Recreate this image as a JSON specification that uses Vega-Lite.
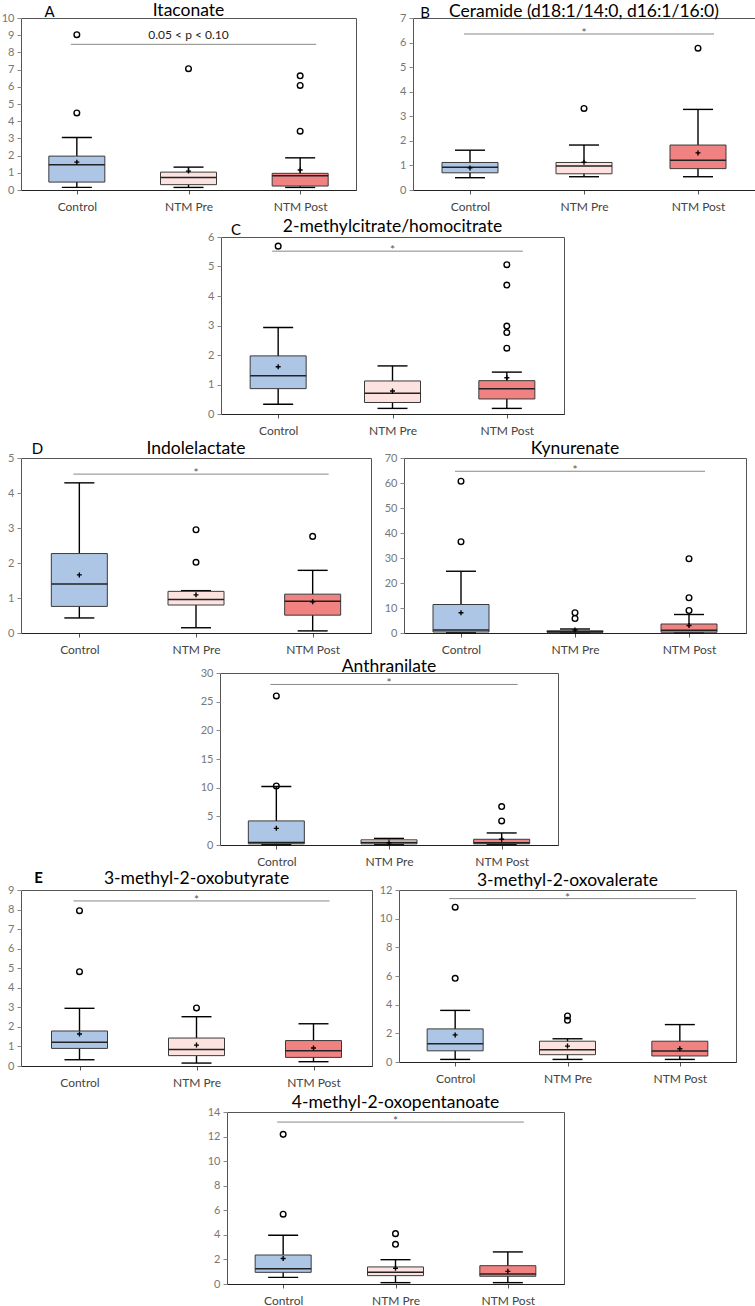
{
"$schema": "https://vega.github.io/schema/vega-lite/v6.json",
"padding": {"left": 0, "top": 1, "right": 0, "bottom": 0},
"background": "white",
"columns": 1,
"align": "none",
"spacing": -4,
"config": {
 "font": "Lato",
 "view": {"stroke": "#555", "strokeWidth": 1},
 "axis": {"grid": false, "labelFont": "Lato", "titleFont": "Lato", "tickSize": 4, "tickColor": "#888", "domain": false},
 "axisX": {"domain": true, "domainColor": "#222", "labelFontSize": 12, "labelColor": "#444", "labelPadding": 7, "labelAngle": 0, "tickColor": "#555"},
 "axisY": {"labelFontSize": 11, "labelColor": "#777", "labelPadding": 3, "titleAngle": 0, "titleAlign": "center", "titleBaseline": "alphabetic", "titleFontSize": 15, "titleFontWeight": "normal", "titleColor": "#000"},
 "title": {"font": "Lato", "fontSize": 17.5, "fontWeight": "normal", "color": "#000", "frame": "group", "anchor": "middle"}
},
"datasets": {"d": [
{"panel":"A","kind":"box","group":"Control","lo":0.15,"q1":0.46,"med":1.47,"q3":1.97,"hi":3.05,"mean":1.62},
{"panel":"A","kind":"box","group":"NTM Pre","lo":0.15,"q1":0.31,"med":0.73,"q3":1.04,"hi":1.33,"mean":1.10},
{"panel":"A","kind":"box","group":"NTM Post","lo":0.15,"q1":0.23,"med":0.83,"q3":0.97,"hi":1.87,"mean":1.16},
{"panel":"A","kind":"out","group":"Control","value":9.03},
{"panel":"A","kind":"out","group":"Control","value":4.48},
{"panel":"A","kind":"out","group":"NTM Pre","value":7.05},
{"panel":"A","kind":"out","group":"NTM Post","value":6.64},
{"panel":"A","kind":"out","group":"NTM Post","value":6.08},
{"panel":"A","kind":"out","group":"NTM Post","value":3.42},
{"panel":"A","kind":"sig","from":"Control","to":"NTM Post","mid":"NTM Pre","y":8.47,"label":"0.05 < p < 0.10"},
{"panel":"B","kind":"box","group":"Control","lo":0.50,"q1":0.70,"med":0.93,"q3":1.12,"hi":1.62,"mean":0.90},
{"panel":"B","kind":"box","group":"NTM Pre","lo":0.54,"q1":0.66,"med":0.98,"q3":1.12,"hi":1.83,"mean":1.13},
{"panel":"B","kind":"box","group":"NTM Post","lo":0.54,"q1":0.87,"med":1.21,"q3":1.83,"hi":3.28,"mean":1.51},
{"panel":"B","kind":"out","group":"NTM Pre","value":3.32},
{"panel":"B","kind":"out","group":"NTM Post","value":5.77},
{"panel":"B","kind":"sig","from":"Control","to":"NTM Post","mid":"NTM Pre","y":6.35,"label":"*"},
{"panel":"C","kind":"box","group":"Control","lo":0.33,"q1":0.86,"med":1.30,"q3":1.97,"hi":2.93,"mean":1.60},
{"panel":"C","kind":"box","group":"NTM Pre","lo":0.19,"q1":0.39,"med":0.70,"q3":1.12,"hi":1.63,"mean":0.78},
{"panel":"C","kind":"box","group":"NTM Post","lo":0.19,"q1":0.51,"med":0.86,"q3":1.13,"hi":1.42,"mean":1.23},
{"panel":"C","kind":"out","group":"Control","value":5.69},
{"panel":"C","kind":"out","group":"NTM Post","value":5.06},
{"panel":"C","kind":"out","group":"NTM Post","value":4.37},
{"panel":"C","kind":"out","group":"NTM Post","value":2.98},
{"panel":"C","kind":"out","group":"NTM Post","value":2.76},
{"panel":"C","kind":"out","group":"NTM Post","value":2.23},
{"panel":"C","kind":"sig","from":"Control","to":"NTM Post","mid":"NTM Pre","y":5.52,"label":"*"},
{"panel":"D","kind":"box","group":"Control","lo":0.43,"q1":0.76,"med":1.40,"q3":2.27,"hi":4.29,"mean":1.66},
{"panel":"D","kind":"box","group":"NTM Pre","lo":0.15,"q1":0.80,"med":0.96,"q3":1.19,"hi":1.21,"mean":1.09},
{"panel":"D","kind":"box","group":"NTM Post","lo":0.06,"q1":0.51,"med":0.91,"q3":1.11,"hi":1.79,"mean":0.89},
{"panel":"D","kind":"out","group":"NTM Pre","value":2.95},
{"panel":"D","kind":"out","group":"NTM Pre","value":2.02},
{"panel":"D","kind":"out","group":"NTM Post","value":2.76},
{"panel":"D","kind":"sig","from":"Control","to":"NTM Post","mid":"NTM Pre","y":4.54,"label":"*"},
{"panel":"K","kind":"box","group":"Control","lo":0.1,"q1":0.4,"med":1.2,"q3":11.4,"hi":24.7,"mean":8.1},
{"panel":"K","kind":"box","group":"NTM Pre","lo":0.1,"q1":0.3,"med":0.5,"q3":0.9,"hi":1.6,"mean":1.2},
{"panel":"K","kind":"box","group":"NTM Post","lo":0.1,"q1":0.3,"med":1.1,"q3":3.6,"hi":7.4,"mean":3.0},
{"panel":"K","kind":"out","group":"Control","value":60.7},
{"panel":"K","kind":"out","group":"Control","value":36.5},
{"panel":"K","kind":"out","group":"NTM Pre","value":8.1},
{"panel":"K","kind":"out","group":"NTM Pre","value":5.8},
{"panel":"K","kind":"out","group":"NTM Post","value":29.7},
{"panel":"K","kind":"out","group":"NTM Post","value":14.1},
{"panel":"K","kind":"out","group":"NTM Post","value":9.0},
{"panel":"K","kind":"sig","from":"Control","to":"NTM Post","mid":"NTM Pre","y":64.7,"label":"*"},
{"panel":"N","kind":"box","group":"Control","lo":0.1,"q1":0.2,"med":0.45,"q3":4.2,"hi":10.2,"mean":2.9},
{"panel":"N","kind":"box","group":"NTM Pre","lo":0.1,"q1":0.2,"med":0.45,"q3":0.9,"hi":1.15,"mean":0.4},
{"panel":"N","kind":"box","group":"NTM Post","lo":0.1,"q1":0.2,"med":0.4,"q3":1.0,"hi":2.1,"mean":1.0},
{"panel":"N","kind":"out","group":"Control","value":26.0},
{"panel":"N","kind":"out","group":"Control","value":10.3},
{"panel":"N","kind":"out","group":"NTM Post","value":6.7},
{"panel":"N","kind":"out","group":"NTM Post","value":4.2},
{"panel":"N","kind":"sig","from":"Control","to":"NTM Post","mid":"NTM Pre","y":28.0,"label":"*"},
{"panel":"E","kind":"box","group":"Control","lo":0.32,"q1":0.90,"med":1.21,"q3":1.79,"hi":2.95,"mean":1.64},
{"panel":"E","kind":"box","group":"NTM Pre","lo":0.15,"q1":0.53,"med":0.84,"q3":1.43,"hi":2.52,"mean":1.07},
{"panel":"E","kind":"box","group":"NTM Post","lo":0.22,"q1":0.44,"med":0.78,"q3":1.30,"hi":2.16,"mean":0.92},
{"panel":"E","kind":"out","group":"Control","value":7.94},
{"panel":"E","kind":"out","group":"Control","value":4.82},
{"panel":"E","kind":"out","group":"NTM Pre","value":2.97},
{"panel":"E","kind":"sig","from":"Control","to":"NTM Post","mid":"NTM Pre","y":8.44,"label":"*"},
{"panel":"V","kind":"box","group":"Control","lo":0.18,"q1":0.78,"med":1.27,"q3":2.31,"hi":3.60,"mean":1.89},
{"panel":"V","kind":"box","group":"NTM Pre","lo":0.18,"q1":0.51,"med":0.85,"q3":1.45,"hi":1.62,"mean":1.11},
{"panel":"V","kind":"box","group":"NTM Post","lo":0.18,"q1":0.42,"med":0.76,"q3":1.45,"hi":2.61,"mean":0.92},
{"panel":"V","kind":"out","group":"Control","value":10.8},
{"panel":"V","kind":"out","group":"Control","value":5.84},
{"panel":"V","kind":"out","group":"NTM Pre","value":2.91},
{"panel":"V","kind":"out","group":"NTM Pre","value":3.21},
{"panel":"V","kind":"sig","from":"Control","to":"NTM Post","mid":"NTM Pre","y":11.4,"label":"*"},
{"panel":"P","kind":"box","group":"Control","lo":0.54,"q1":0.95,"med":1.25,"q3":2.36,"hi":3.97,"mean":2.07},
{"panel":"P","kind":"box","group":"NTM Pre","lo":0.11,"q1":0.68,"med":0.95,"q3":1.39,"hi":1.98,"mean":1.28},
{"panel":"P","kind":"box","group":"NTM Post","lo":0.11,"q1":0.63,"med":0.82,"q3":1.49,"hi":2.61,"mean":1.03},
{"panel":"P","kind":"out","group":"Control","value":12.18},
{"panel":"P","kind":"out","group":"Control","value":5.68},
{"panel":"P","kind":"out","group":"NTM Pre","value":3.23},
{"panel":"P","kind":"out","group":"NTM Pre","value":4.10},
{"panel":"P","kind":"sig","from":"Control","to":"NTM Post","mid":"NTM Pre","y":13.18,"label":"*"}
]},
"data": {"name": "d"},
"concat": [
{"hconcat": [
{"width": 335, "height": 172, "title": {"text": "Itaconate", "offset": -15.5},
 "transform": [{"filter": "datum.panel === 'A'"}],
 "encoding": {"x": {"field": "group", "type": "nominal", "scale": {"type": "point", "padding": 0.5, "domain": ["Control", "NTM Pre", "NTM Post"]}, "axis": {"title": null, "minExtent": 30, "maxExtent": 30}}},
 "layer": [
  {"transform": [{"filter": "datum.kind === 'box'"}], "mark": {"type": "rule", "color": "#000", "strokeWidth": 1.4},
   "encoding": {"y": {"field": "lo", "type": "quantitative", "scale": {"domain": [0, 10], "nice": false}, "axis": {"title": "A", "tickCount": 10, "minExtent": 18, "maxExtent": 18, "titleX": 28, "titleY": -2}}, "y2": {"field": "hi"}}},
  {"transform": [{"filter": "datum.kind === 'box'"}], "mark": {"type": "tick", "color": "#000", "size": 30, "thickness": 1.4, "opacity": 1}, "encoding": {"y": {"field": "lo", "type": "quantitative"}}},
  {"transform": [{"filter": "datum.kind === 'box'"}], "mark": {"type": "tick", "color": "#000", "size": 30, "thickness": 1.4, "opacity": 1}, "encoding": {"y": {"field": "hi", "type": "quantitative"}}},
  {"transform": [{"filter": "datum.kind === 'box'"}], "mark": {"type": "bar", "size": 56, "stroke": "#3a3a3a", "strokeWidth": 1}, "encoding": {"y": {"field": "q1", "type": "quantitative"}, "y2": {"field": "q3"}, "color": {"field": "group", "type": "nominal", "scale": {"domain": ["Control", "NTM Pre", "NTM Post"], "range": ["#aec6e6", "#fde3e0", "#f08282"]}, "legend": null}}},
  {"transform": [{"filter": "datum.kind === 'box'"}], "mark": {"type": "tick", "color": "#222", "size": 56, "thickness": 1.5, "opacity": 1}, "encoding": {"y": {"field": "med", "type": "quantitative"}}},
  {"transform": [{"filter": "datum.kind === 'box'"}], "mark": {"type": "point", "shape": "M-1,0L1,0M0,-1L0,1", "size": 25, "filled": false, "color": "#000", "strokeWidth": 1.4, "opacity": 1}, "encoding": {"y": {"field": "mean", "type": "quantitative"}}},
  {"transform": [{"filter": "datum.kind === 'out'"}], "mark": {"type": "point", "shape": "circle", "size": 32, "filled": false, "color": "#000", "strokeWidth": 1.4, "opacity": 1}, "encoding": {"y": {"field": "value", "type": "quantitative"}}},
  {"transform": [{"filter": "datum.kind === 'sig'"}], "mark": {"type": "rule", "color": "#888", "strokeWidth": 1, "xOffset": -6, "x2Offset": 16}, "encoding": {"x": {"field": "from", "type": "nominal"}, "x2": {"field": "to"}, "y": {"field": "y", "type": "quantitative"}}},
  {"transform": [{"filter": "datum.kind === 'sig'"}], "mark": {"type": "text", "fontSize": 12, "color": "#222", "baseline": "alphabetic", "dy": -5}, "encoding": {"x": {"field": "mid", "type": "nominal"}, "y": {"field": "y", "type": "quantitative"}, "text": {"field": "label"}}}
 ]},
{"width": 342, "height": 172, "title": {"text": "Ceramide (d18:1/14:0, d16:1/16:0)", "offset": -15.5},
 "transform": [{"filter": "datum.panel === 'B'"}],
 "encoding": {"x": {"field": "group", "type": "nominal", "scale": {"type": "point", "padding": 0.5, "domain": ["Control", "NTM Pre", "NTM Post"]}, "axis": {"title": null, "minExtent": 30, "maxExtent": 30}}},
 "layer": [
  {"transform": [{"filter": "datum.kind === 'box'"}], "mark": {"type": "rule", "color": "#000", "strokeWidth": 1.4},
   "encoding": {"y": {"field": "lo", "type": "quantitative", "scale": {"domain": [0, 7], "nice": false}, "axis": {"title": "B", "tickCount": 7, "minExtent": 20, "maxExtent": 20, "titleX": 11.5, "titleY": -1}}, "y2": {"field": "hi"}}},
  {"transform": [{"filter": "datum.kind === 'box'"}], "mark": {"type": "tick", "color": "#000", "size": 30, "thickness": 1.4, "opacity": 1}, "encoding": {"y": {"field": "lo", "type": "quantitative"}}},
  {"transform": [{"filter": "datum.kind === 'box'"}], "mark": {"type": "tick", "color": "#000", "size": 30, "thickness": 1.4, "opacity": 1}, "encoding": {"y": {"field": "hi", "type": "quantitative"}}},
  {"transform": [{"filter": "datum.kind === 'box'"}], "mark": {"type": "bar", "size": 56, "stroke": "#3a3a3a", "strokeWidth": 1}, "encoding": {"y": {"field": "q1", "type": "quantitative"}, "y2": {"field": "q3"}, "color": {"field": "group", "type": "nominal", "scale": {"domain": ["Control", "NTM Pre", "NTM Post"], "range": ["#aec6e6", "#fde3e0", "#f08282"]}, "legend": null}}},
  {"transform": [{"filter": "datum.kind === 'box'"}], "mark": {"type": "tick", "color": "#222", "size": 56, "thickness": 1.5, "opacity": 1}, "encoding": {"y": {"field": "med", "type": "quantitative"}}},
  {"transform": [{"filter": "datum.kind === 'box'"}], "mark": {"type": "point", "shape": "M-1,0L1,0M0,-1L0,1", "size": 25, "filled": false, "color": "#000", "strokeWidth": 1.4, "opacity": 1}, "encoding": {"y": {"field": "mean", "type": "quantitative"}}},
  {"transform": [{"filter": "datum.kind === 'out'"}], "mark": {"type": "point", "shape": "circle", "size": 32, "filled": false, "color": "#000", "strokeWidth": 1.4, "opacity": 1}, "encoding": {"y": {"field": "value", "type": "quantitative"}}},
  {"transform": [{"filter": "datum.kind === 'sig'"}], "mark": {"type": "rule", "color": "#888", "strokeWidth": 1, "xOffset": -6, "x2Offset": 16}, "encoding": {"x": {"field": "from", "type": "nominal"}, "x2": {"field": "to"}, "y": {"field": "y", "type": "quantitative"}}},
  {"transform": [{"filter": "datum.kind === 'sig'"}], "mark": {"type": "text", "fontSize": 12, "color": "#555", "baseline": "alphabetic", "dy": 3}, "encoding": {"x": {"field": "mid", "type": "nominal"}, "y": {"field": "y", "type": "quantitative"}, "text": {"field": "label"}}}
 ]}
], "spacing": 35},
{"hconcat": [
{"width": 179, "height": 1, "data": {"values": []}, "mark": {"type": "rule"}, "encoding": {}, "view": {"stroke": null}},
{"width": 343, "height": 177, "title": {"text": "2-methylcitrate/homocitrate", "offset": -13.5},
 "transform": [{"filter": "datum.panel === 'C'"}],
 "encoding": {"x": {"field": "group", "type": "nominal", "scale": {"type": "point", "padding": 0.5, "domain": ["Control", "NTM Pre", "NTM Post"]}, "axis": {"title": null, "minExtent": 28, "maxExtent": 28}}},
 "layer": [
  {"transform": [{"filter": "datum.kind === 'box'"}], "mark": {"type": "rule", "color": "#000", "strokeWidth": 1.4},
   "encoding": {"y": {"field": "lo", "type": "quantitative", "scale": {"domain": [0, 6], "nice": false}, "axis": {"title": "C", "tickCount": 6, "minExtent": 20, "maxExtent": 20, "titleX": 14.5, "titleY": -3}}, "y2": {"field": "hi"}}},
  {"transform": [{"filter": "datum.kind === 'box'"}], "mark": {"type": "tick", "color": "#000", "size": 30, "thickness": 1.4, "opacity": 1}, "encoding": {"y": {"field": "lo", "type": "quantitative"}}},
  {"transform": [{"filter": "datum.kind === 'box'"}], "mark": {"type": "tick", "color": "#000", "size": 30, "thickness": 1.4, "opacity": 1}, "encoding": {"y": {"field": "hi", "type": "quantitative"}}},
  {"transform": [{"filter": "datum.kind === 'box'"}], "mark": {"type": "bar", "size": 56, "stroke": "#3a3a3a", "strokeWidth": 1}, "encoding": {"y": {"field": "q1", "type": "quantitative"}, "y2": {"field": "q3"}, "color": {"field": "group", "type": "nominal", "scale": {"domain": ["Control", "NTM Pre", "NTM Post"], "range": ["#aec6e6", "#fde3e0", "#f08282"]}, "legend": null}}},
  {"transform": [{"filter": "datum.kind === 'box'"}], "mark": {"type": "tick", "color": "#222", "size": 56, "thickness": 1.5, "opacity": 1}, "encoding": {"y": {"field": "med", "type": "quantitative"}}},
  {"transform": [{"filter": "datum.kind === 'box'"}], "mark": {"type": "point", "shape": "M-1,0L1,0M0,-1L0,1", "size": 25, "filled": false, "color": "#000", "strokeWidth": 1.4, "opacity": 1}, "encoding": {"y": {"field": "mean", "type": "quantitative"}}},
  {"transform": [{"filter": "datum.kind === 'out'"}], "mark": {"type": "point", "shape": "circle", "size": 32, "filled": false, "color": "#000", "strokeWidth": 1.4, "opacity": 1}, "encoding": {"y": {"field": "value", "type": "quantitative"}}},
  {"transform": [{"filter": "datum.kind === 'sig'"}], "mark": {"type": "rule", "color": "#888", "strokeWidth": 1, "xOffset": -6, "x2Offset": 16}, "encoding": {"x": {"field": "from", "type": "nominal"}, "x2": {"field": "to"}, "y": {"field": "y", "type": "quantitative"}}},
  {"transform": [{"filter": "datum.kind === 'sig'"}], "mark": {"type": "text", "fontSize": 12, "color": "#555", "baseline": "alphabetic", "dy": 3}, "encoding": {"x": {"field": "mid", "type": "nominal"}, "y": {"field": "y", "type": "quantitative"}, "text": {"field": "label"}}}
 ]}
], "spacing": 0},
{"hconcat": [
{"width": 350, "height": 175, "title": {"text": "Indolelactate", "offset": -16.2},
 "transform": [{"filter": "datum.panel === 'D'"}],
 "encoding": {"x": {"field": "group", "type": "nominal", "scale": {"type": "point", "padding": 0.5, "domain": ["Control", "NTM Pre", "NTM Post"]}, "axis": {"title": null, "minExtent": 27, "maxExtent": 27}}},
 "layer": [
  {"transform": [{"filter": "datum.kind === 'box'"}], "mark": {"type": "rule", "color": "#000", "strokeWidth": 1.4},
   "encoding": {"y": {"field": "lo", "type": "quantitative", "scale": {"domain": [0, 5], "nice": false}, "axis": {"title": "D", "tickCount": 5, "minExtent": 18, "maxExtent": 18, "titleX": 16, "titleY": -5}}, "y2": {"field": "hi"}}},
  {"transform": [{"filter": "datum.kind === 'box'"}], "mark": {"type": "tick", "color": "#000", "size": 30, "thickness": 1.4, "opacity": 1}, "encoding": {"y": {"field": "lo", "type": "quantitative"}}},
  {"transform": [{"filter": "datum.kind === 'box'"}], "mark": {"type": "tick", "color": "#000", "size": 30, "thickness": 1.4, "opacity": 1}, "encoding": {"y": {"field": "hi", "type": "quantitative"}}},
  {"transform": [{"filter": "datum.kind === 'box'"}], "mark": {"type": "bar", "size": 56, "stroke": "#3a3a3a", "strokeWidth": 1}, "encoding": {"y": {"field": "q1", "type": "quantitative"}, "y2": {"field": "q3"}, "color": {"field": "group", "type": "nominal", "scale": {"domain": ["Control", "NTM Pre", "NTM Post"], "range": ["#aec6e6", "#fde3e0", "#f08282"]}, "legend": null}}},
  {"transform": [{"filter": "datum.kind === 'box'"}], "mark": {"type": "tick", "color": "#222", "size": 56, "thickness": 1.5, "opacity": 1}, "encoding": {"y": {"field": "med", "type": "quantitative"}}},
  {"transform": [{"filter": "datum.kind === 'box'"}], "mark": {"type": "point", "shape": "M-1,0L1,0M0,-1L0,1", "size": 25, "filled": false, "color": "#000", "strokeWidth": 1.4, "opacity": 1}, "encoding": {"y": {"field": "mean", "type": "quantitative"}}},
  {"transform": [{"filter": "datum.kind === 'out'"}], "mark": {"type": "point", "shape": "circle", "size": 32, "filled": false, "color": "#000", "strokeWidth": 1.4, "opacity": 1}, "encoding": {"y": {"field": "value", "type": "quantitative"}}},
  {"transform": [{"filter": "datum.kind === 'sig'"}], "mark": {"type": "rule", "color": "#888", "strokeWidth": 1, "xOffset": -6, "x2Offset": 16}, "encoding": {"x": {"field": "from", "type": "nominal"}, "x2": {"field": "to"}, "y": {"field": "y", "type": "quantitative"}}},
  {"transform": [{"filter": "datum.kind === 'sig'"}], "mark": {"type": "text", "fontSize": 12, "color": "#555", "baseline": "alphabetic", "dy": 3}, "encoding": {"x": {"field": "mid", "type": "nominal"}, "y": {"field": "y", "type": "quantitative"}, "text": {"field": "label"}}}
 ]},
{"width": 342, "height": 175, "title": {"text": "Kynurenate", "offset": -5.7},
 "transform": [{"filter": "datum.panel === 'K'"}],
 "encoding": {"x": {"field": "group", "type": "nominal", "scale": {"type": "point", "padding": 0.5, "domain": ["Control", "NTM Pre", "NTM Post"]}, "axis": {"title": null, "minExtent": 27, "maxExtent": 27}}},
 "layer": [
  {"transform": [{"filter": "datum.kind === 'box'"}], "mark": {"type": "rule", "color": "#000", "strokeWidth": 1.4},
   "encoding": {"y": {"field": "lo", "type": "quantitative", "scale": {"domain": [0, 70], "nice": false}, "axis": {"title": null, "tickCount": 7, "minExtent": 20, "maxExtent": 20}}, "y2": {"field": "hi"}}},
  {"transform": [{"filter": "datum.kind === 'box'"}], "mark": {"type": "tick", "color": "#000", "size": 30, "thickness": 1.4, "opacity": 1}, "encoding": {"y": {"field": "lo", "type": "quantitative"}}},
  {"transform": [{"filter": "datum.kind === 'box'"}], "mark": {"type": "tick", "color": "#000", "size": 30, "thickness": 1.4, "opacity": 1}, "encoding": {"y": {"field": "hi", "type": "quantitative"}}},
  {"transform": [{"filter": "datum.kind === 'box'"}], "mark": {"type": "bar", "size": 56, "stroke": "#3a3a3a", "strokeWidth": 1}, "encoding": {"y": {"field": "q1", "type": "quantitative"}, "y2": {"field": "q3"}, "color": {"field": "group", "type": "nominal", "scale": {"domain": ["Control", "NTM Pre", "NTM Post"], "range": ["#aec6e6", "#fde3e0", "#f08282"]}, "legend": null}}},
  {"transform": [{"filter": "datum.kind === 'box'"}], "mark": {"type": "tick", "color": "#222", "size": 56, "thickness": 1.5, "opacity": 1}, "encoding": {"y": {"field": "med", "type": "quantitative"}}},
  {"transform": [{"filter": "datum.kind === 'box'"}], "mark": {"type": "point", "shape": "M-1,0L1,0M0,-1L0,1", "size": 25, "filled": false, "color": "#000", "strokeWidth": 1.4, "opacity": 1}, "encoding": {"y": {"field": "mean", "type": "quantitative"}}},
  {"transform": [{"filter": "datum.kind === 'out'"}], "mark": {"type": "point", "shape": "circle", "size": 32, "filled": false, "color": "#000", "strokeWidth": 1.4, "opacity": 1}, "encoding": {"y": {"field": "value", "type": "quantitative"}}},
  {"transform": [{"filter": "datum.kind === 'sig'"}], "mark": {"type": "rule", "color": "#888", "strokeWidth": 1, "xOffset": -6, "x2Offset": 16}, "encoding": {"x": {"field": "from", "type": "nominal"}, "x2": {"field": "to"}, "y": {"field": "y", "type": "quantitative"}}},
  {"transform": [{"filter": "datum.kind === 'sig'"}], "mark": {"type": "text", "fontSize": 12, "color": "#555", "baseline": "alphabetic", "dy": 3}, "encoding": {"x": {"field": "mid", "type": "nominal"}, "y": {"field": "y", "type": "quantitative"}, "text": {"field": "label"}}}
 ]}
], "spacing": 11},
{"hconcat": [
{"width": 178, "height": 1, "data": {"values": []}, "mark": {"type": "rule"}, "encoding": {}, "view": {"stroke": null}},
{"width": 338, "height": 172, "title": {"text": "Anthranilate", "offset": -8.2},
 "transform": [{"filter": "datum.panel === 'N'"}],
 "encoding": {"x": {"field": "group", "type": "nominal", "scale": {"type": "point", "padding": 0.5, "domain": ["Control", "NTM Pre", "NTM Post"]}, "axis": {"title": null, "minExtent": 27, "maxExtent": 27}}},
 "layer": [
  {"transform": [{"filter": "datum.kind === 'box'"}], "mark": {"type": "rule", "color": "#000", "strokeWidth": 1.4},
   "encoding": {"y": {"field": "lo", "type": "quantitative", "scale": {"domain": [0, 30], "nice": false}, "axis": {"title": null, "tickCount": 6, "minExtent": 20, "maxExtent": 20}}, "y2": {"field": "hi"}}},
  {"transform": [{"filter": "datum.kind === 'box'"}], "mark": {"type": "tick", "color": "#000", "size": 30, "thickness": 1.4, "opacity": 1}, "encoding": {"y": {"field": "lo", "type": "quantitative"}}},
  {"transform": [{"filter": "datum.kind === 'box'"}], "mark": {"type": "tick", "color": "#000", "size": 30, "thickness": 1.4, "opacity": 1}, "encoding": {"y": {"field": "hi", "type": "quantitative"}}},
  {"transform": [{"filter": "datum.kind === 'box'"}], "mark": {"type": "bar", "size": 56, "stroke": "#3a3a3a", "strokeWidth": 1}, "encoding": {"y": {"field": "q1", "type": "quantitative"}, "y2": {"field": "q3"}, "color": {"field": "group", "type": "nominal", "scale": {"domain": ["Control", "NTM Pre", "NTM Post"], "range": ["#aec6e6", "#fde3e0", "#f08282"]}, "legend": null}}},
  {"transform": [{"filter": "datum.kind === 'box'"}], "mark": {"type": "tick", "color": "#222", "size": 56, "thickness": 1.5, "opacity": 1}, "encoding": {"y": {"field": "med", "type": "quantitative"}}},
  {"transform": [{"filter": "datum.kind === 'box'"}], "mark": {"type": "point", "shape": "M-1,0L1,0M0,-1L0,1", "size": 25, "filled": false, "color": "#000", "strokeWidth": 1.4, "opacity": 1}, "encoding": {"y": {"field": "mean", "type": "quantitative"}}},
  {"transform": [{"filter": "datum.kind === 'out'"}], "mark": {"type": "point", "shape": "circle", "size": 32, "filled": false, "color": "#000", "strokeWidth": 1.4, "opacity": 1}, "encoding": {"y": {"field": "value", "type": "quantitative"}}},
  {"transform": [{"filter": "datum.kind === 'sig'"}], "mark": {"type": "rule", "color": "#888", "strokeWidth": 1, "xOffset": -6, "x2Offset": 16}, "encoding": {"x": {"field": "from", "type": "nominal"}, "x2": {"field": "to"}, "y": {"field": "y", "type": "quantitative"}}},
  {"transform": [{"filter": "datum.kind === 'sig'"}], "mark": {"type": "text", "fontSize": 12, "color": "#555", "baseline": "alphabetic", "dy": 3}, "encoding": {"x": {"field": "mid", "type": "nominal"}, "y": {"field": "y", "type": "quantitative"}, "text": {"field": "label"}}}
 ]}
], "spacing": 0},
{"hconcat": [
{"width": 351, "height": 176, "title": {"text": "3-methyl-2-oxobutyrate", "offset": -17.9},
 "transform": [{"filter": "datum.panel === 'E'"}],
 "encoding": {"x": {"field": "group", "type": "nominal", "scale": {"type": "point", "padding": 0.5, "domain": ["Control", "NTM Pre", "NTM Post"]}, "axis": {"title": null, "minExtent": 30, "maxExtent": 30}}},
 "layer": [
  {"transform": [{"filter": "datum.kind === 'box'"}], "mark": {"type": "rule", "color": "#000", "strokeWidth": 1.4},
   "encoding": {"y": {"field": "lo", "type": "quantitative", "scale": {"domain": [0, 9], "nice": false}, "axis": {"title": "E", "tickCount": 9, "minExtent": 18, "maxExtent": 18, "titleX": 17, "titleY": -8, "titleFontWeight": "bold"}}, "y2": {"field": "hi"}}},
  {"transform": [{"filter": "datum.kind === 'box'"}], "mark": {"type": "tick", "color": "#000", "size": 30, "thickness": 1.4, "opacity": 1}, "encoding": {"y": {"field": "lo", "type": "quantitative"}}},
  {"transform": [{"filter": "datum.kind === 'box'"}], "mark": {"type": "tick", "color": "#000", "size": 30, "thickness": 1.4, "opacity": 1}, "encoding": {"y": {"field": "hi", "type": "quantitative"}}},
  {"transform": [{"filter": "datum.kind === 'box'"}], "mark": {"type": "bar", "size": 56, "stroke": "#3a3a3a", "strokeWidth": 1}, "encoding": {"y": {"field": "q1", "type": "quantitative"}, "y2": {"field": "q3"}, "color": {"field": "group", "type": "nominal", "scale": {"domain": ["Control", "NTM Pre", "NTM Post"], "range": ["#aec6e6", "#fde3e0", "#f08282"]}, "legend": null}}},
  {"transform": [{"filter": "datum.kind === 'box'"}], "mark": {"type": "tick", "color": "#222", "size": 56, "thickness": 1.5, "opacity": 1}, "encoding": {"y": {"field": "med", "type": "quantitative"}}},
  {"transform": [{"filter": "datum.kind === 'box'"}], "mark": {"type": "point", "shape": "M-1,0L1,0M0,-1L0,1", "size": 25, "filled": false, "color": "#000", "strokeWidth": 1.4, "opacity": 1}, "encoding": {"y": {"field": "mean", "type": "quantitative"}}},
  {"transform": [{"filter": "datum.kind === 'out'"}], "mark": {"type": "point", "shape": "circle", "size": 32, "filled": false, "color": "#000", "strokeWidth": 1.4, "opacity": 1}, "encoding": {"y": {"field": "value", "type": "quantitative"}}},
  {"transform": [{"filter": "datum.kind === 'sig'"}], "mark": {"type": "rule", "color": "#888", "strokeWidth": 1, "xOffset": -6, "x2Offset": 16}, "encoding": {"x": {"field": "from", "type": "nominal"}, "x2": {"field": "to"}, "y": {"field": "y", "type": "quantitative"}}},
  {"transform": [{"filter": "datum.kind === 'sig'"}], "mark": {"type": "text", "fontSize": 12, "color": "#555", "baseline": "alphabetic", "dy": 3}, "encoding": {"x": {"field": "mid", "type": "nominal"}, "y": {"field": "y", "type": "quantitative"}, "text": {"field": "label"}}}
 ]},
{"width": 337, "height": 172, "title": {"text": "3-methyl-2-oxovalerate", "offset": -5.4},
 "transform": [{"filter": "datum.panel === 'V'"}],
 "encoding": {"x": {"field": "group", "type": "nominal", "scale": {"type": "point", "padding": 0.5, "domain": ["Control", "NTM Pre", "NTM Post"]}, "axis": {"title": null, "minExtent": 30, "maxExtent": 30}}},
 "layer": [
  {"transform": [{"filter": "datum.kind === 'box'"}], "mark": {"type": "rule", "color": "#000", "strokeWidth": 1.4},
   "encoding": {"y": {"field": "lo", "type": "quantitative", "scale": {"domain": [0, 12], "nice": false}, "axis": {"title": null, "tickCount": 6, "minExtent": 20, "maxExtent": 20}}, "y2": {"field": "hi"}}},
  {"transform": [{"filter": "datum.kind === 'box'"}], "mark": {"type": "tick", "color": "#000", "size": 30, "thickness": 1.4, "opacity": 1}, "encoding": {"y": {"field": "lo", "type": "quantitative"}}},
  {"transform": [{"filter": "datum.kind === 'box'"}], "mark": {"type": "tick", "color": "#000", "size": 30, "thickness": 1.4, "opacity": 1}, "encoding": {"y": {"field": "hi", "type": "quantitative"}}},
  {"transform": [{"filter": "datum.kind === 'box'"}], "mark": {"type": "bar", "size": 56, "stroke": "#3a3a3a", "strokeWidth": 1}, "encoding": {"y": {"field": "q1", "type": "quantitative"}, "y2": {"field": "q3"}, "color": {"field": "group", "type": "nominal", "scale": {"domain": ["Control", "NTM Pre", "NTM Post"], "range": ["#aec6e6", "#fde3e0", "#f08282"]}, "legend": null}}},
  {"transform": [{"filter": "datum.kind === 'box'"}], "mark": {"type": "tick", "color": "#222", "size": 56, "thickness": 1.5, "opacity": 1}, "encoding": {"y": {"field": "med", "type": "quantitative"}}},
  {"transform": [{"filter": "datum.kind === 'box'"}], "mark": {"type": "point", "shape": "M-1,0L1,0M0,-1L0,1", "size": 25, "filled": false, "color": "#000", "strokeWidth": 1.4, "opacity": 1}, "encoding": {"y": {"field": "mean", "type": "quantitative"}}},
  {"transform": [{"filter": "datum.kind === 'out'"}], "mark": {"type": "point", "shape": "circle", "size": 32, "filled": false, "color": "#000", "strokeWidth": 1.4, "opacity": 1}, "encoding": {"y": {"field": "value", "type": "quantitative"}}},
  {"transform": [{"filter": "datum.kind === 'sig'"}], "mark": {"type": "rule", "color": "#888", "strokeWidth": 1, "xOffset": -6, "x2Offset": 16}, "encoding": {"x": {"field": "from", "type": "nominal"}, "x2": {"field": "to"}, "y": {"field": "y", "type": "quantitative"}}},
  {"transform": [{"filter": "datum.kind === 'sig'"}], "mark": {"type": "text", "fontSize": 12, "color": "#555", "baseline": "alphabetic", "dy": 3}, "encoding": {"x": {"field": "mid", "type": "nominal"}, "y": {"field": "y", "type": "quantitative"}, "text": {"field": "label"}}}
 ]}
], "spacing": 5},
{"hconcat": [
{"width": 185, "height": 1, "data": {"values": []}, "mark": {"type": "rule"}, "encoding": {}, "view": {"stroke": null}},
{"width": 337, "height": 172, "title": {"text": "4-methyl-2-oxopentanoate", "offset": -5.4},
 "transform": [{"filter": "datum.panel === 'P'"}],
 "encoding": {"x": {"field": "group", "type": "nominal", "scale": {"type": "point", "padding": 0.5, "domain": ["Control", "NTM Pre", "NTM Post"]}, "axis": {"title": null, "minExtent": 23, "maxExtent": 23}}},
 "layer": [
  {"transform": [{"filter": "datum.kind === 'box'"}], "mark": {"type": "rule", "color": "#000", "strokeWidth": 1.4},
   "encoding": {"y": {"field": "lo", "type": "quantitative", "scale": {"domain": [0, 14], "nice": false}, "axis": {"title": null, "tickCount": 7, "minExtent": 20, "maxExtent": 20}}, "y2": {"field": "hi"}}},
  {"transform": [{"filter": "datum.kind === 'box'"}], "mark": {"type": "tick", "color": "#000", "size": 30, "thickness": 1.4, "opacity": 1}, "encoding": {"y": {"field": "lo", "type": "quantitative"}}},
  {"transform": [{"filter": "datum.kind === 'box'"}], "mark": {"type": "tick", "color": "#000", "size": 30, "thickness": 1.4, "opacity": 1}, "encoding": {"y": {"field": "hi", "type": "quantitative"}}},
  {"transform": [{"filter": "datum.kind === 'box'"}], "mark": {"type": "bar", "size": 56, "stroke": "#3a3a3a", "strokeWidth": 1}, "encoding": {"y": {"field": "q1", "type": "quantitative"}, "y2": {"field": "q3"}, "color": {"field": "group", "type": "nominal", "scale": {"domain": ["Control", "NTM Pre", "NTM Post"], "range": ["#aec6e6", "#fde3e0", "#f08282"]}, "legend": null}}},
  {"transform": [{"filter": "datum.kind === 'box'"}], "mark": {"type": "tick", "color": "#222", "size": 56, "thickness": 1.5, "opacity": 1}, "encoding": {"y": {"field": "med", "type": "quantitative"}}},
  {"transform": [{"filter": "datum.kind === 'box'"}], "mark": {"type": "point", "shape": "M-1,0L1,0M0,-1L0,1", "size": 25, "filled": false, "color": "#000", "strokeWidth": 1.4, "opacity": 1}, "encoding": {"y": {"field": "mean", "type": "quantitative"}}},
  {"transform": [{"filter": "datum.kind === 'out'"}], "mark": {"type": "point", "shape": "circle", "size": 32, "filled": false, "color": "#000", "strokeWidth": 1.4, "opacity": 1}, "encoding": {"y": {"field": "value", "type": "quantitative"}}},
  {"transform": [{"filter": "datum.kind === 'sig'"}], "mark": {"type": "rule", "color": "#888", "strokeWidth": 1, "xOffset": -6, "x2Offset": 16}, "encoding": {"x": {"field": "from", "type": "nominal"}, "x2": {"field": "to"}, "y": {"field": "y", "type": "quantitative"}}},
  {"transform": [{"filter": "datum.kind === 'sig'"}], "mark": {"type": "text", "fontSize": 12, "color": "#555", "baseline": "alphabetic", "dy": 3}, "encoding": {"x": {"field": "mid", "type": "nominal"}, "y": {"field": "y", "type": "quantitative"}, "text": {"field": "label"}}}
 ]}
], "spacing": 0}
]
}
